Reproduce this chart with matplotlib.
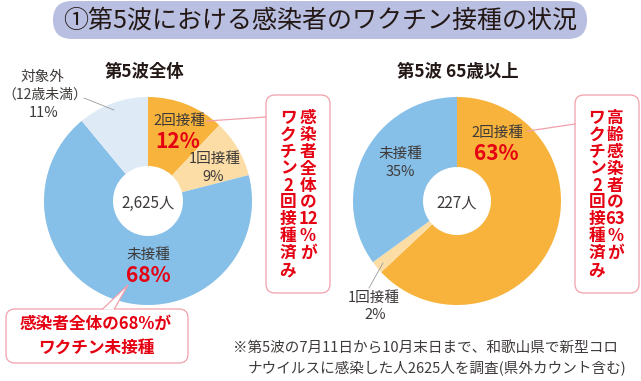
import matplotlib
matplotlib.use("Agg")
import matplotlib.pyplot as plt
from matplotlib.patches import FancyBboxPatch, Polygon

plt.rcParams['font.family'] = ['Noto Sans CJK JP', 'DejaVu Sans']

# ---------------- data ----------------
title = "①第5波における感染者のワクチン接種の状況"
left_title = "第5波全体"
right_title = "第5波 65歳以上"

left_cats = ["2回接種", "1回接種", "未接種", "対象外\n（12歳未満）"]
left_vals = [12, 9, 68, 11]
left_total = "2,625人"

right_cats = ["2回接種", "1回接種", "未接種"]
right_vals = [63, 2, 35]
right_total = "227人"

col_2dose = "#F7B33B"
col_1dose = "#FCDDA6"
col_none = "#86BFE7"
col_excl = "#DEEBF7"
left_colors = [col_2dose, col_1dose, col_none, col_excl]
right_colors = [col_2dose, col_1dose, col_none]

callout_left = [["ワ", "ク", "チ", "ン", "2", "回", "接", "種", "済", "み"],
                ["感", "染", "者", "全", "体", "の", "12", "%", "が"]]
callout_right = [["ワ", "ク", "チ", "ン", "2", "回", "接", "種", "済", "み"],
                 ["高", "齢", "感", "染", "者", "の", "63", "%", "が"]]
callout_bottom = "感染者全体の68%が\nワクチン未接種"
footnote1 = "※第5波の7月11日から10月末日まで、和歌山県で新型コロ"
footnote2 = "ナウイルスに感染した人2625人を調査(県外カウント含む)"

W, H = 641, 381
RED = "#E50012"
TXT = "#3E3A39"
PINK = "#F2A0AB"
GRAY = "#9A9A9A"

fig = plt.figure(figsize=(W / 100, H / 100), dpi=100)
ax = fig.add_axes([0, 0, 1, 1])

# y axis is inverted later (pixel-like coords), so clockwise-from-top on screen
# corresponds to startangle=-90, counterclock=True in data angles.
R, RIN = 104, 35
ax.pie(left_vals, colors=left_colors, radius=R, center=(148, 201),
       startangle=-90, counterclock=True,
       wedgeprops=dict(width=R - RIN, linewidth=0), frame=False)
ax.pie(right_vals, colors=right_colors, radius=R, center=(457, 201),
       startangle=-90, counterclock=True,
       wedgeprops=dict(width=R - 34, linewidth=0), frame=False)

ax.set_xlim(0, W)
ax.set_ylim(H, 0)
ax.set_aspect('equal')
ax.axis('off')

# ---------------- title banner ----------------
ax.add_patch(FancyBboxPatch((53, 1), 534, 38,
                            boxstyle="round,pad=0,rounding_size=19",
                            fc="#B8BFE0", ec="none", zorder=1))
ax.text(320, 21, title, ha='center', va='center', fontsize=18,
        color="#231815", weight='normal', zorder=2)

ax.text(145, 72, left_title, ha='center', va='center', fontsize=12.5,
        weight='bold', color="#231815")
ax.text(458, 72, right_title, ha='center', va='center', fontsize=12.5,
        weight='bold', color="#231815")

# ---------------- left pie labels ----------------
lab = dict(ha='center', va='center', fontsize=10.5, color=TXT)
big = dict(ha='center', va='center', fontsize=15, color=RED, weight='bold')
ax.text(179, 121, left_cats[0], **lab)
ax.text(178, 141, f"{left_vals[0]}%", **big)
ax.text(215, 159, left_cats[1], **lab)
ax.text(213, 177, f"{left_vals[1]}%", **lab)
ax.text(148, 255, left_cats[2], **lab)
ax.text(148, 275, f"{left_vals[2]}%", **big)
excl_line1, excl_line2 = left_cats[3].split("\n")
ax.text(42, 77, excl_line1, ha='center', va='center', fontsize=10.5, color=TXT)
ax.text(44.5, 95, excl_line2, ha='center', va='center', fontsize=10, color=TXT)
ax.text(44, 113, f"{left_vals[3]}%", **lab)
ax.text(148, 203, left_total, ha='center', va='center', fontsize=11, color=TXT)
ax.plot([84, 114], [98, 110], color=GRAY, lw=0.6)

# ---------------- right pie labels ----------------
ax.text(497, 133, right_cats[0], **lab)
ax.text(496, 153, f"{right_vals[0]}%", **big)
ax.text(400, 154, right_cats[2], **lab)
ax.text(400, 172, f"{right_vals[2]}%", **lab)
ax.text(374, 298, right_cats[1], **lab)
ax.text(375, 315, f"{right_vals[1]}%", **lab)
ax.text(457, 203, right_total, ha='center', va='center', fontsize=11, color=TXT)
ax.plot([369, 383], [288, 263], color=GRAY, lw=0.6)

# ---------------- callouts ----------------
def box(x0, y0, w, h):
    ax.add_patch(FancyBboxPatch((x0, y0), w, h,
                                boxstyle="round,pad=0,rounding_size=9",
                                fc="white", ec=PINK, lw=0.9, zorder=3))

def vcol(x, cells, top=118, step=16.9):
    for i, c in enumerate(cells):
        ax.text(x, top + i * step, c, ha='center', va='center', fontsize=12,
                weight='bold', color=RED, zorder=5)

box(266, 95, 64, 198)
vcol(288, callout_left[0])
vcol(308, callout_left[1])
ax.plot([207, 266], [121, 117], color=PINK, lw=0.9, zorder=4)

box(575, 95, 64, 198)
vcol(597, callout_right[0])
vcol(615, callout_right[1])
ax.plot([528, 575], [131, 124], color=PINK, lw=0.9, zorder=4)

box(6, 309, 182, 54)
ax.add_patch(Polygon([[102, 309.6], [128, 285], [114, 309.6]], closed=False,
                     fc="white", ec=PINK, lw=0.9, zorder=4))
ax.text(96, 336, callout_bottom, ha='center', va='center', fontsize=12,
        weight='bold', color=RED, linespacing=1.45, zorder=5)

# ---------------- footnote ----------------
ax.text(233, 349, footnote1, ha='left', va='center', fontsize=10.5, color=TXT)
ax.text(248, 368, footnote2, ha='left', va='center', fontsize=10.5, color=TXT)

fig.savefig("out.png", dpi=100)
